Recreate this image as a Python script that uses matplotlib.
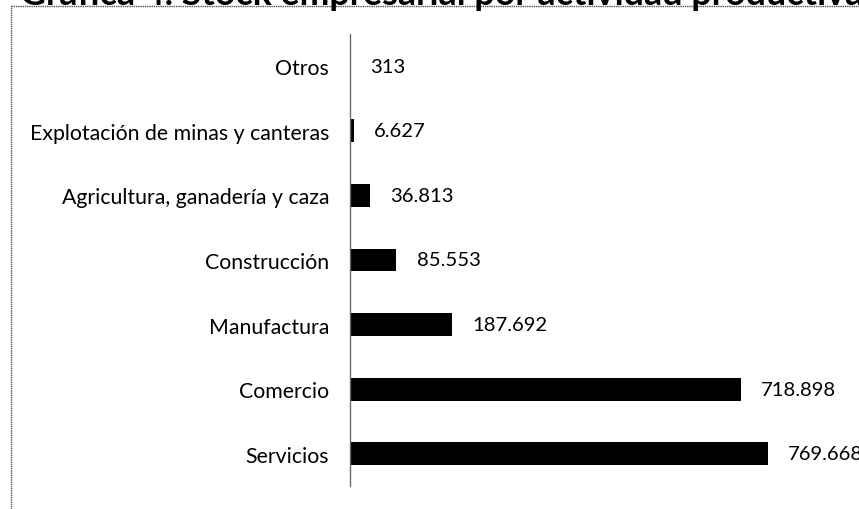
import matplotlib
matplotlib.use("Agg")
import matplotlib.pyplot as plt
from matplotlib.lines import Line2D

categories = ["Servicios", "Comercio", "Manufactura", "Construcción",
              "Agricultura, ganadería y caza", "Explotación de minas y canteras", "Otros"]
values = [769668, 718898, 187692, 85553, 36813, 6627, 313]
value_labels = ["769.668", "718.898", "187.692", "85.553", "36.813", "6.627", "313"]
title = "Gráfica 4. Stock empresarial por actividad productiva"

plt.rcParams['font.family'] = ['Lato', 'DejaVu Sans']

W, H = 859, 510
fig = plt.figure(figsize=(W / 100, H / 100), dpi=100)
ax = fig.add_axes([350 / W, (H - 487) / H, (W - 350) / W, (487 - 35) / H])

y = list(range(len(categories)))
ax.barh(y, values, height=0.355, color="black")
ax.set_ylim(-0.5, len(categories) - 0.5)
ax.set_xlim(0, 937000)
ax.set_yticks(y)
ax.set_yticklabels(categories, fontsize=15.3)
ax.tick_params(axis="y", length=0, pad=15)
ax.set_xticks([])
for s in ["top", "right", "bottom"]:
    ax.spines[s].set_visible(False)
ax.spines["left"].set_color("#666666")
ax.spines["left"].set_linewidth(0.9)
ax.spines["left"].set_linestyle((0, (1, 0.5)))

for yi, v, lab in zip(y, values, value_labels):
    ax.annotate(lab, (v, yi), xytext=(14.5, 0), textcoords="offset points",
                va="center", ha="left", fontsize=14.6)

# frame lines (scanned border)
fig.add_artist(Line2D([11 / W, 11 / W], [0, (H - 7) / H], transform=fig.transFigure,
                      color="#555555", lw=1.0, linestyle=(0, (1, 0.6))))
fig.add_artist(Line2D([11 / W, 1], [(H - 7) / H, (H - 7) / H], transform=fig.transFigure,
                      color="#555555", lw=1.0, linestyle=(0, (1, 0.6))))

# title, cut at the top edge as in the scanned reference
t = fig.text(20 / W, (H - 5) / H, title, fontsize=24, fontweight="bold",
             ha="left", va="baseline")
fig.canvas.draw()
bb = t.get_window_extent()
t.set_fontsize(24 * 845 / bb.width)

fig.savefig("out.png", dpi=100)
